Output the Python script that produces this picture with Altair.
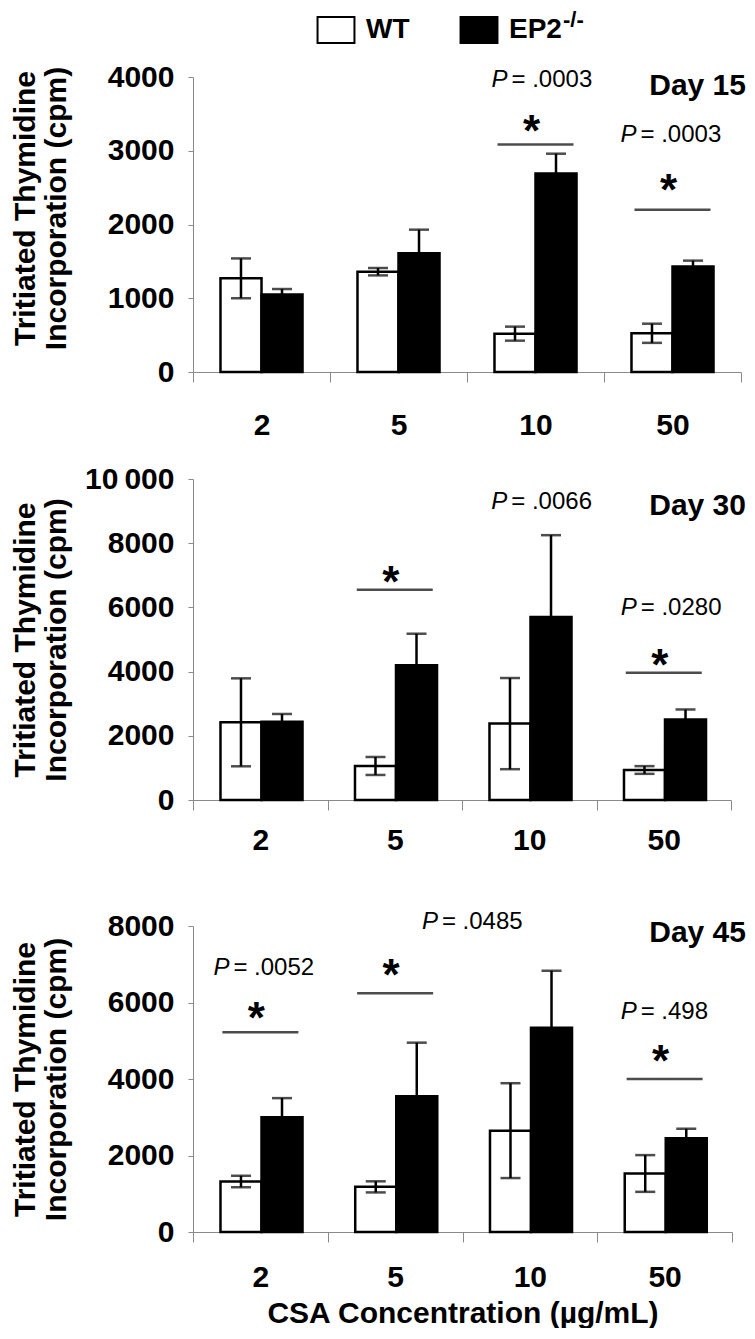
import altair as alt
import pandas as pd

FONT = "Liberation Sans, Arial, sans-serif"

categories = ["2", "5", "10", "50"]
groups = ["WT", "EP2"]

# Day 15
d15_wt = [1270, 1360, 520, 525]
d15_wt_err = [270, 50, 95, 130]
d15_ep2 = [1050, 1610, 2690, 1430]
d15_ep2_err = [75, 320, 270, 80]
d15_sig_cat = ["10", "50"]
d15_sig_line = [3085, 2200]
d15_sig_star = [3410, 2600]
d15_p_cat = ["10", "50"]
d15_p_txt = [".0003", ".0003"]
d15_p_y = [3955, 3207]

# Day 30
d30_wt = [2420, 1060, 2380, 935]
d30_wt_err = [1370, 280, 1420, 120]
d30_ep2 = [2440, 4200, 5700, 2510]
d30_ep2_err = [240, 980, 2550, 310]
d30_sig_cat = ["5", "50"]
d30_sig_line = [6552, 3967]
d30_sig_star = [7113, 4517]
d30_p_cat = ["10", "50"]
d30_p_txt = [".0066", ".0280"]
d30_p_y = [9294, 5971]

# Day 45
d45_wt = [1320, 1180, 2650, 1530]
d45_wt_err = [150, 145, 1240, 480]
d45_ep2 = [3000, 3550, 5340, 2450]
d45_ep2_err = [500, 1400, 1490, 250]
d45_sig_cat = ["2", "5", "50"]
d45_sig_line = [5220, 6240, 4000]
d45_sig_star = [5848, 6981, 4741]
d45_p_cat = ["2", "10", "50"]
d45_p_txt = [".0052", ".0485", ".498"]
d45_p_y = [6893, 8114, 5743]

Y_TITLE = ["Tritiated Thymidine", "Incorporation (cpm)"]


def panel(wt, wt_err, ep2, ep2_err, ymax, ystep, sig_cat, sig_line, sig_star,
          p_cat, p_txt, p_y, p_dx, day, day_dx, day_dy, w, h, lab_pad,
          xtitle=None, ytitle_y=None, title_x=-183, top_gap=0, extra=None):
    df = pd.DataFrame({
        "cat": categories * 2,
        "grp": ["WT"] * 4 + ["EP2"] * 4,
        "val": wt + ep2,
        "err": wt_err + ep2_err,
    })
    df["lo"] = df["val"] - df["err"]
    df["hi"] = df["val"] + df["err"]

    xaxis_kw = dict(
        labelAngle=0, labelFont=FONT, labelFontSize=30, labelFontWeight="bold",
        labelColor="black", domainColor="#8a8a8a", domainWidth=1,
        tickColor="#8a8a8a", tickSize=10, tickWidth=1, tickBand="extent",
        labelPadding=lab_pad, titleFont=FONT, titleFontSize=30,
        titleFontWeight="bold", titleColor="black", titlePadding=6,
    )
    xaxis_kw["title"] = xtitle
    X = alt.X("cat:N", sort=categories,
              scale=alt.Scale(paddingInner=0, paddingOuter=0),
              axis=alt.Axis(**xaxis_kw))
    XO = alt.XOffset("grp:N", sort=groups,
                     scale=alt.Scale(paddingInner=0, paddingOuter=0.67))

    total_h = h + top_gap
    yaxis_kw = dict(
        values=list(range(0, ymax + 1, ystep)), format="d",
        labelExpr="datum.value == 10000 ? '10\u2009000' : datum.label",
        labelFont=FONT, labelFontSize=30, labelFontWeight="bold",
        labelColor="black", domainColor="#8a8a8a", domainWidth=1,
        tickColor="#8a8a8a", tickSize=5, tickWidth=1, labelPadding=14,
        title=Y_TITLE, titleFont=FONT, titleFontSize=30, titleFontWeight="bold",
        titleColor="black", titleAngle=270, titleBaseline="top",
        titleAlign="center", titleLineHeight=31, titleX=title_x,
    )
    if ytitle_y is not None:
        yaxis_kw["titleY"] = ytitle_y + top_gap
    else:
        yaxis_kw["titleY"] = top_gap + h / 2
    yscale = alt.Scale(domain=[0, ymax], nice=False, zero=True,
                       range=[total_h, top_gap])

    def Y(field):
        return alt.Y(field, type="quantitative", scale=yscale,
                     axis=alt.Axis(**yaxis_kw))

    base = alt.Chart(df).encode(x=X, xOffset=XO)
    bars = base.mark_bar(stroke="black", strokeWidth=2.5).encode(
        y=Y("val"),
        fill=alt.Fill("grp:N", sort=groups,
                      scale=alt.Scale(domain=groups, range=["white", "black"]),
                      legend=alt.Legend(
                          orient="none", legendX=129, legendY=-61,
                          direction="horizontal", title=None, padding=0,
                          symbolType="M-1.42,-1L1.42,-1L1.42,1L-1.42,1Z",
                          symbolSize=676, symbolStrokeColor="black",
                          symbolStrokeWidth=2, labelFont=FONT, labelFontSize=28,
                          labelFontWeight="bold", labelColor="black",
                          labelOffset=16, columnPadding=46)),
    )
    rules = base.mark_rule(color="black", strokeWidth=2.5).encode(
        y=Y("lo"), y2="hi")
    cap_hi = base.mark_tick(color="black", size=20, thickness=2.5).encode(y=Y("hi"))
    cap_lo = base.mark_tick(color="black", size=20, thickness=2.5).encode(y=Y("lo"))

    sig = pd.DataFrame({"cat": sig_cat, "line": sig_line, "star": sig_star})
    sig_lines = alt.Chart(sig).mark_tick(color="black", size=76, thickness=2.5).encode(
        x=X, y=Y("line"))
    stars = alt.Chart(sig).mark_text(
        text="*", font=FONT, fontSize=44, fontWeight="bold", color="black",
        baseline="alphabetic", dy=25, dx=-4).encode(x=X, y=Y("star"))

    layers = [bars, rules, cap_hi, cap_lo, sig_lines, stars]

    for c, t, yv, dx in zip(p_cat, p_txt, p_y, p_dx):
        pdf = pd.DataFrame({"cat": [c], "py": [yv], "t": ["= " + t]})
        layers.append(alt.Chart(pdf).mark_text(
            text="P", font=FONT, fontSize=24, fontStyle="italic", color="black",
            align="left", baseline="middle", dx=dx).encode(x=X, y=Y("py")))
        layers.append(alt.Chart(pdf).mark_text(
            font=FONT, fontSize=24, color="black", align="left",
            baseline="middle", dx=dx + 20).encode(x=X, y=Y("py"), text="t:N"))

    ddf = pd.DataFrame({"t": [day]})
    layers.append(alt.Chart(ddf).mark_text(
        font=FONT, fontSize=30, fontWeight="bold", color="black",
        align="right", baseline="middle").encode(
        x=alt.value(w + day_dx), y=alt.value(day_dy + top_gap), text="t:N"))
    if extra is not None:
        layers.append(extra)

    return alt.layer(*layers).properties(width=w, height=total_h)


sup = alt.Chart(pd.DataFrame({"t": ["-/-"]})).mark_text(
    font=FONT, fontSize=22, fontWeight="bold", color="black",
    align="left", baseline="middle").encode(
    x=alt.value(370), y=alt.value(-57), text="t:N")

p1 = panel(d15_wt, d15_wt_err, d15_ep2, d15_ep2_err, 4000, 1000,
           d15_sig_cat, d15_sig_line, d15_sig_star,
           d15_p_cat, d15_p_txt, d15_p_y, [-44, -52],
           "Day 15", 5, 9, 548, 295, 28, ytitle_y=131, extra=sup)
p2 = panel(d30_wt, d30_wt_err, d30_ep2, d30_ep2_err, 10000, 2000,
           d30_sig_cat, d30_sig_line, d30_sig_star,
           d30_p_cat, d30_p_txt, d30_p_y, [-38, -43],
           "Day 30", 15, 27, 538, 321, 15)
p3 = panel(d45_wt, d45_wt_err, d45_ep2, d45_ep2_err, 8000, 2000,
           d45_sig_cat, d45_sig_line, d45_sig_star,
           d45_p_cat, d45_p_txt, d45_p_y, [-47, -108, -44],
           "Day 45", 14, 7, 539, 306, 20,
           xtitle="CSA Concentration (\u00b5g/mL)", top_gap=19)

chart = alt.vconcat(p1, p2, p3, spacing=107, bounds="flush").resolve_scale(
    x="independent", y="independent", fill="shared").properties(
    padding={"left": 2, "top": 1, "right": 0, "bottom": 0}).configure_view(
    stroke=None).configure_axis(grid=False)

chart.save("out.html", embed_options={"renderer": "svg", "actions": False})
